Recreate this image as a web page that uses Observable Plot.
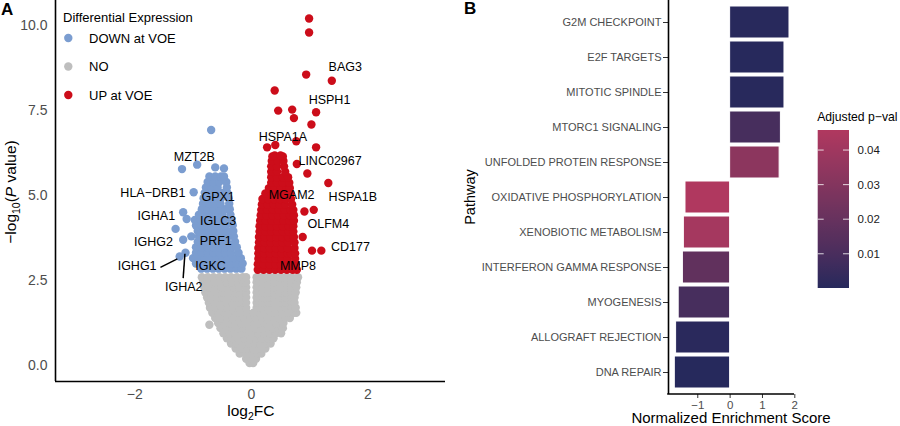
<!DOCTYPE html>
<html>
<head>
<meta charset="utf-8">
<script src="https://cdn.jsdelivr.net/npm/d3@7"></script>
<script src="https://cdn.jsdelivr.net/npm/@observablehq/plot@0.6"></script>
<style>
  body { margin: 0; background: #fff; }
  #fig { position: relative; width: 900px; height: 426px; overflow: hidden;
         font-family: "Liberation Sans", Arial, Helvetica, sans-serif; }
  #fig svg { position: absolute; top: 0; overflow: visible; }
</style>
</head>
<body>
<div id="fig"></div>
<script>
// ---------- Panel A: volcano plot (log2 fold change vs -log10 P) ----------
const deGroups = ["DOWN at VOE", "NO", "UP at VOE"];
const deColors = ["#7b9dd0", "#bebebe", "#cc0d1a"];

// genes grouped by -log10(P) row: [pValue, [log2FC, ...]]
const noRows = [
  [0.07, [-0.03, 0.03]],
  [0.20, [-0.09, 0.0, 0.08]],
  [0.35, [-0.20, -0.10, 0.0, 0.10, 0.17]],
  [0.50, [-0.27, -0.17, -0.07, 0.03, 0.13, 0.24]],
  [0.65, [-0.35, -0.25, -0.15, -0.05, 0.05, 0.15, 0.25, 0.33]],
  [0.80, [-0.42, -0.32, -0.22, -0.12, -0.02, 0.08, 0.18, 0.28, 0.38]],
  [0.95, [-0.48, -0.38, -0.28, -0.18, -0.08, 0.02, 0.12, 0.22, 0.32, 0.42, 0.51]],
  [1.10, [-0.53, -0.43, -0.33, -0.23, -0.13, -0.03, 0.07, 0.17, 0.27, 0.37, 0.47, 0.54]],
  [1.20, [-0.72]],
  [1.25, [-0.57, -0.47, -0.37, -0.27, -0.17, -0.07, 0.03, 0.13, 0.23, 0.33, 0.43, 0.55]],
  [1.40, [-0.62, -0.52, -0.42, -0.32, -0.22, -0.12, -0.02, 0.08, 0.18, 0.28, 0.38, 0.48, 0.58, 0.66]],
  [1.55, [-0.67, -0.57, -0.47, -0.37, -0.27, -0.17, -0.07, 0.03, 0.13, 0.23, 0.33, 0.43, 0.53, 0.63, 0.73, 0.77]],
  [1.70, [-0.71, -0.61, -0.51, -0.41, -0.31, -0.21, -0.09, 0.09, 0.19, 0.29, 0.39, 0.49, 0.59, 0.69, 0.76]],
  [1.85, [-0.73, -0.63, -0.53, -0.43, -0.33, -0.23, -0.13, -0.09, 0.09, 0.19, 0.29, 0.39, 0.49, 0.59, 0.69, 0.74]],
  [2.00, [-0.76, -0.69, -0.59, -0.49, -0.39, -0.29, -0.19, -0.09, 0.09, 0.19, 0.29, 0.39, 0.49, 0.59, 0.69, 0.74]],
  [2.15, [-0.79, -0.69, -0.59, -0.49, -0.39, -0.29, -0.19, -0.09, 0.09, 0.19, 0.29, 0.39, 0.49, 0.59, 0.69, 0.76]],
  [2.30, [-0.81, -0.71, -0.61, -0.51, -0.41, -0.31, -0.21, -0.09, 0.09, 0.19, 0.29, 0.39, 0.49, 0.59, 0.69, 0.77]],
  [2.45, [-0.83, -0.73, -0.63, -0.53, -0.43, -0.33, -0.23, -0.13, -0.09, 0.09, 0.19, 0.29, 0.39, 0.49, 0.59, 0.69, 0.78]],
  [2.60, [-0.85, -0.75, -0.65, -0.55, -0.45, -0.35, -0.25, -0.15, -0.09, 0.09, 0.19, 0.29, 0.39, 0.49, 0.59, 0.69, 0.80]]
];

const downRows = [
  [2.85, [-0.86, -0.76, -0.66, -0.56, -0.46, -0.36, -0.26, -0.17]],
  [3.00, [-0.95, -0.85, -0.75, -0.65, -0.55, -0.45, -0.35, -0.25, -0.15]],
  [3.16, [-1.00, -0.90, -0.80, -0.70, -0.60, -0.50, -0.40, -0.30, -0.18]],
  [3.21, [-1.23]],
  [3.32, [-1.13, -0.95, -0.85, -0.75, -0.65, -0.55, -0.45, -0.35, -0.22]],
  [3.48, [-0.95, -0.85, -0.75, -0.65, -0.55, -0.45, -0.35, -0.25]],
  [3.64, [-0.92, -0.82, -0.72, -0.62, -0.52, -0.42, -0.28]],
  [3.70, [-1.17]],
  [3.80, [-1.03, -0.90, -0.80, -0.70, -0.60, -0.50, -0.40, -0.30]],
  [3.96, [-0.92, -0.82, -0.72, -0.62, -0.52, -0.42, -0.31]],
  [4.02, [-1.30]],
  [4.12, [-0.95, -0.85, -0.75, -0.65, -0.55, -0.45, -0.32]],
  [4.28, [-0.97, -0.87, -0.77, -0.67, -0.57, -0.47, -0.34]],
  [4.31, [-1.11]],
  [4.44, [-0.90, -0.80, -0.70, -0.60, -0.50, -0.36]],
  [4.51, [-1.17]],
  [4.60, [-0.85, -0.75, -0.65, -0.55, -0.45, -0.37]],
  [4.76, [-0.83, -0.73, -0.63, -0.53, -0.38]],
  [4.92, [-0.82, -0.72, -0.62, -0.52, -0.39]],
  [5.08, [-0.80, -0.70, -0.60, -0.50, -0.41]],
  [5.10, [-0.99]],
  [5.24, [-0.78, -0.68, -0.58, -0.42]],
  [5.40, [-0.75, -0.65, -0.55, -0.43]],
  [5.56, [-0.72, -0.62, -0.52, -0.47]],
  [5.78, [-1.19]],
  [5.80, [-0.47]],
  [5.83, [-0.62]],
  [5.91, [-0.93]],
  [6.93, [-0.69]]
];

const upRows = [
  [2.82, [0.11, 0.21, 0.31, 0.41, 0.51, 0.61, 0.71, 0.78]],
  [2.98, [0.11, 0.21, 0.31, 0.41, 0.51, 0.61, 0.71, 0.76]],
  [3.14, [0.12, 0.22, 0.32, 0.42, 0.52, 0.62, 0.75]],
  [3.30, [0.12, 0.22, 0.32, 0.42, 0.52, 0.62, 0.68, 0.75]],
  [3.38, [1.04, 1.20]],
  [3.46, [0.12, 0.22, 0.32, 0.42, 0.52, 0.62, 0.74]],
  [3.62, [0.13, 0.23, 0.33, 0.43, 0.53, 0.63, 0.74]],
  [3.78, [0.13, 0.23, 0.33, 0.43, 0.53, 0.63, 0.73, 0.88]],
  [3.94, [0.14, 0.24, 0.34, 0.44, 0.54, 0.64, 0.72]],
  [4.10, [0.14, 0.24, 0.34, 0.44, 0.54, 0.64, 0.72]],
  [4.26, [0.15, 0.25, 0.35, 0.45, 0.55, 0.65, 0.73]],
  [4.42, [0.16, 0.26, 0.36, 0.46, 0.56, 0.66, 0.73]],
  [4.53, [0.91]],
  [4.58, [0.17, 0.27, 0.37, 0.47, 0.57, 0.67, 0.72, 1.07]],
  [4.74, [0.18, 0.28, 0.38, 0.48, 0.58, 0.70]],
  [4.90, [0.19, 0.29, 0.39, 0.49, 0.59, 0.68]],
  [5.06, [0.24, 0.34, 0.44, 0.54, 0.67]],
  [5.22, [0.30, 0.40, 0.50, 0.60, 0.66]],
  [5.37, [1.32]],
  [5.38, [0.34, 0.44, 0.54, 0.65]],
  [5.54, [0.34, 0.44, 0.54, 0.63]],
  [5.65, [0.96]],
  [5.70, [0.34, 0.44, 0.58]],
  [5.86, [0.34, 0.44, 0.56]],
  [5.93, [0.78]],
  [6.02, [0.35, 0.45, 0.55]],
  [6.15, [0.36, 0.54]],
  [6.18, [0.40, 0.50]],
  [6.42, [0.27, 1.11]],
  [6.49, [0.41]],
  [6.60, [0.77]],
  [7.09, [1.03]],
  [7.28, [0.73]],
  [7.45, [1.11]],
  [7.50, [0.46]],
  [7.53, [0.70]],
  [8.09, [0.40]],
  [8.38, [1.38]],
  [8.56, [0.94]],
  [9.80, [0.99]],
  [10.21, [0.99]]
];

const labelGenes = ["MZT2B", "HLA\u2212DRB1", "GPX1", "IGHA1", "IGLC3", "IGHG2", "PRF1", "IGHG1", "IGKC", "IGHA2",
                    "HSPA1A", "BAG3", "HSPH1", "LINC02967", "MGAM2", "HSPA1B", "OLFM4", "CD177", "MMP8"];
const labelFC = [-0.98, -1.69, -0.57, -1.63, -0.57, -1.68, -0.61, -1.96, -0.70, -1.16,
                 0.54, 1.61, 1.34, 1.35, 0.69, 1.74, 1.32, 1.70, 0.80];
const labelP  = [6.15, 5.07, 4.95, 4.39, 4.26, 3.63, 3.66, 2.94, 2.94, 2.30,
                 6.71, 8.77, 7.82, 6.01, 5.03, 4.97, 4.15, 3.48, 2.94];

// leader segments for IGHG1 and IGHA2
const leaderFC1 = [-1.56, -1.14];
const leaderP1  = [2.89, 3.29];
const leaderFC2 = [-1.27, -1.17];
const leaderP2  = [3.14, 2.57];

const yTicksA = [0, 2.5, 5, 7.5, 10];
const xTicksA = [-2, 0, 2];

const toGenes = (rows, group) => rows.flatMap(([p, fcs]) => fcs.map(fc => ({fc, p, group})));
const genes = [
  ...toGenes(noRows, "NO"),
  ...toGenes(downRows, "DOWN at VOE"),
  ...toGenes(upRows, "UP at VOE")
];
const labels = labelGenes.map((g, i) => ({gene: g, fc: labelFC[i], p: labelP[i]}));
const leaders = leaderFC1.map((v, i) => ({x1: v, y1: leaderP1[i], x2: leaderFC2[i], y2: leaderP2[i]}));

const fontFamily = "Liberation Sans, Arial, Helvetica, sans-serif";
const intFormat = d3.format("d");
const xDomA = [-3.36, 3.33], yDomA = [-0.47, 10.74];

const plotA = Plot.plot({
  width: 450, height: 426,
  marginLeft: 55, marginRight: 5, marginTop: 0, marginBottom: 45,
  style: {fontFamily, background: "transparent"},
  x: {domain: xDomA},
  y: {domain: yDomA},
  color: {domain: deGroups, range: deColors},
  marks: [
    Plot.dot(genes, {x: "fc", y: "p", fill: "group", r: 4.2}),
    Plot.link(leaders, {x1: "x1", y1: "y1", x2: "x2", y2: "y2", stroke: "black", strokeWidth: 1.5}),
    Plot.text(labels, {x: "fc", y: "p", text: "gene", fill: "black", fontSize: 12.5}),
    Plot.axisY({ticks: yTicksA, tickFormat: d3.format(".1f"), tickSize: 0, tickPadding: 8,
                fontSize: 14, fill: "#4d4d4d", label: null}),
    Plot.axisX({ticks: xTicksA, tickFormat: intFormat, tickSize: 0, tickPadding: 8,
                fontSize: 14, fill: "#4d4d4d", label: null}),
    Plot.ruleX([xDomA[0]], {stroke: "black", strokeWidth: 1.6}),
    Plot.ruleY([yDomA[0]], {stroke: "black", strokeWidth: 1.6})
  ]
});

// ---------- Panel B: GSEA normalized enrichment scores ----------
const pathways = ["G2M CHECKPOINT", "E2F TARGETS", "MITOTIC SPINDLE", "MTORC1 SIGNALING",
  "UNFOLDED PROTEIN RESPONSE", "OXIDATIVE PHOSPHORYLATION", "XENOBIOTIC METABOLISM",
  "INTERFERON GAMMA RESPONSE", "MYOGENESIS", "ALLOGRAFT REJECTION", "DNA REPAIR"];
const nes  = [1.835, 1.68, 1.68, 1.57, 1.53, -1.38, -1.43, -1.46, -1.59, -1.67, -1.71];
const padj = [0.0005, 0.0004, 0.0006, 0.0095, 0.033, 0.0458, 0.042, 0.018, 0.0095, 0.0010, 0.0001];
const padjTicks = [0.01, 0.02, 0.03, 0.04];
const xTicksB = [-1, 0, 1, 2];
const lowColor = "#26295c", highColor = "#b0385f";

const pathwayRows = pathways.map((p, i) => ({pathway: p, nes: nes[i], padj: padj[i]}));
const padjExtent = d3.extent(padj);
const xDomB = [-1.905, 1.99];

const plotB = Plot.plot({
  width: 450, height: 426,
  marginLeft: 218, marginRight: 106, marginTop: 0, marginBottom: 32,
  style: {fontFamily, background: "transparent"},
  x: {domain: xDomB},
  y: {domain: pathways, range: [1.64, 392.4], padding: 0.1},
  color: {type: "linear", domain: padjExtent, range: [lowColor, highColor], interpolate: "lab"},
  marks: [
    Plot.barX(pathwayRows, {x: "nes", y: "pathway", fill: "padj", stroke: "white", strokeWidth: 1}),
    Plot.axisY({tickSize: 5, tickPadding: 2, fontSize: 11, fill: "#4d4d4d", stroke: "#333", label: null}),
    Plot.axisX({ticks: xTicksB, tickFormat: intFormat, tickSize: 4, tickPadding: 2, fontSize: 11.5,
                fill: "#4d4d4d", stroke: "#333", label: null}),
    Plot.ruleX([xDomB[0]], {stroke: "black", strokeWidth: 1.6})
  ]
});

const fig = document.getElementById("fig");
plotA.style.left = "0px";
plotB.style.left = "450px";
fig.append(plotA, plotB);

// ---------- annotations drawn into the panel SVGs ----------
const svgA = d3.select(plotA);
const svgB = d3.select(plotB);
const addText = (sel, x, y, size, str, anchor = "start") =>
  sel.append("text").attr("x", x).attr("y", y).attr("font-size", size)
    .attr("font-family", fontFamily).attr("text-anchor", anchor).attr("fill", "black").text(str);

addText(svgA, 1, 15, 17, "A").attr("font-weight", "bold");
addText(svgB, 14, 14, 17, "B").attr("font-weight", "bold");

// y title of A: -log10(P value)
const yTitleA = svgA.append("text")
  .attr("transform", "translate(16,192) rotate(-90)")
  .attr("text-anchor", "middle").attr("font-size", 15.5).attr("font-family", fontFamily).attr("fill", "black");
yTitleA.append("tspan").text("\u2212log");
yTitleA.append("tspan").attr("font-size", 10.5).attr("dy", 4).text("10");
yTitleA.append("tspan").attr("dy", -4).text("(");
yTitleA.append("tspan").attr("font-style", "italic").text("P");
yTitleA.append("tspan").text(" value)");

// x title of A: log2FC, centred under fold change 0
const sxA = plotA.scale("x");
const xTitleA = svgA.append("text")
  .attr("x", sxA.apply ? sxA.apply(0) : 251)
  .attr("y", 416).attr("text-anchor", "middle").attr("font-size", 15.5)
  .attr("font-family", fontFamily).attr("fill", "black");
xTitleA.append("tspan").text("log");
xTitleA.append("tspan").attr("font-size", 10.5).attr("dy", 4).text("2");
xTitleA.append("tspan").attr("dy", -4).text("FC");

// legend of A
const legA = svgA.append("g");
addText(legA, 63, 22, 13, "Differential Expression");
deGroups.forEach((g, i) => {
  const cy = 38 + i * 28.5;
  legA.append("circle").attr("cx", 68.3).attr("cy", cy).attr("r", 4.2).attr("fill", deColors[i]);
  addText(legA, 89, cy + 4.6, 13, g);
});

// axis titles and bottom axis line of B
const sxB = plotB.scale("x");
svgB.append("line").attr("x1", sxB.range[0] - 0.8).attr("x2", sxB.range[1])
  .attr("y1", 394).attr("y2", 394).attr("stroke", "black").attr("stroke-width", 1.6);
addText(svgB, (sxB.range[0] + sxB.range[1]) / 2, 423, 15, "Normalized Enrichment Score", "middle");
addText(svgB, 0, 0, 14.5, "Pathway", "middle").attr("x", null).attr("y", null)
  .attr("transform", "translate(25,197) rotate(-90)");

// colour bar legend of B
const barX0 = 367.7, barW = 31.3, barTop = 130, barBottom = 288;
const cbar = d3.scaleLinear().domain(padjExtent).range([lowColor, highColor]).interpolate(d3.interpolateLab);
const cy = d3.scaleLinear().domain(padjExtent).range([barBottom, barTop]);
const grad = svgB.append("defs").append("linearGradient").attr("id", "padjGrad")
  .attr("x1", 0).attr("y1", 1).attr("x2", 0).attr("y2", 0);
d3.range(0, 1.0001, 0.05).forEach(t => {
  grad.append("stop").attr("offset", t)
    .attr("stop-color", cbar(padjExtent[0] + t * (padjExtent[1] - padjExtent[0])));
});
const legB = svgB.append("g");
addText(legB, barX0 - 0.5, 121, 12.2, "Adjusted p\u2212val");
legB.append("rect").attr("x", barX0).attr("y", barTop).attr("width", barW).attr("height", barBottom - barTop)
  .attr("fill", "url(#padjGrad)");
padjTicks.forEach(v => {
  const y = cy(v);
  legB.append("line").attr("x1", barX0).attr("x2", barX0 + 6).attr("y1", y).attr("y2", y)
    .attr("stroke", "white").attr("stroke-opacity", 0.8);
  legB.append("line").attr("x1", barX0 + barW - 6).attr("x2", barX0 + barW).attr("y1", y).attr("y2", y)
    .attr("stroke", "white").attr("stroke-opacity", 0.8);
  addText(legB, barX0 + barW + 8.5, y + 4, 11.5, d3.format(".2f")(v)).attr("fill", "#1a1a1a");
});
</script>
</body>
</html>
